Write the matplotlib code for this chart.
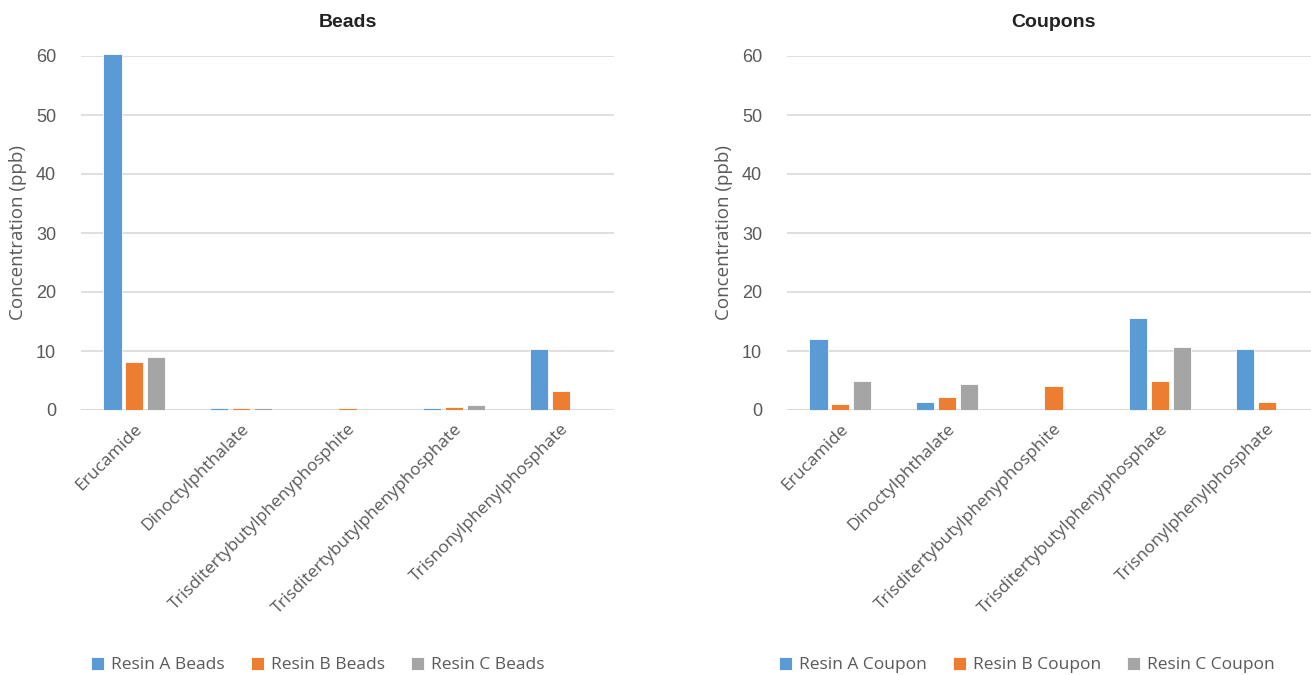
import matplotlib
matplotlib.use("Agg")
import matplotlib.pyplot as plt
import numpy as np

plt.rcParams["font.family"] = ["Open Sans", "DejaVu Sans"]

compounds = ["Erucamide", "Dinoctylphthalate", "Trisditertybutylphenyphosphite",
             "Trisditertybutylphenyphosphate", "Trisnonylphenylphosphate"]

beads_a = [60.3, 0.3, 0.0, 0.3, 10.4]
beads_b = [8.2, 0.3, 0.3, 0.5, 3.3]
beads_c = [9.0, 0.3, 0.0, 0.9, 0.0]

coupon_a = [12.0, 1.4, 0.0, 15.6, 10.4]
coupon_b = [1.1, 2.2, 4.1, 4.9, 1.4]
coupon_c = [5.0, 4.4, 0.0, 10.7, 0.0]

colors = ["#5B9BD5", "#ED7D31", "#A5A5A5"]
grey = "#595959"

W, H = 1311, 675
fig = plt.figure(figsize=(W / 100, H / 100), dpi=100)
ax1 = fig.add_axes([81 / W, 1 - 410 / H, 533 / W, 354 / H])
ax2 = fig.add_axes([787 / W, 1 - 410 / H, 533 / W, 354 / H])


def draw(ax, series, names, title, legend_x):
    x = np.arange(len(compounds))
    w = 0.17
    step = 0.205
    handles = []
    for i, (vals, name) in enumerate(zip(series, names)):
        b = ax.bar(x + (i - 1) * step, vals, w, color=colors[i], edgecolor="white",
                   linewidth=0.6, label=name, zorder=3, clip_on=False)
        handles.append(b)
    ax.set_xlim(-0.5, len(compounds) - 0.5)
    ax.set_ylim(0, 60)
    ax.set_yticks(range(0, 61, 10))
    ax.yaxis.grid(True, color="#D9D9D9", linewidth=1.2, zorder=0)
    for s in ax.spines.values():
        s.set_visible(False)
    ax.axhline(0, color="#D9D9D9", linewidth=1.2, zorder=1)
    ax.tick_params(axis="y", length=0, colors=grey, pad=18)
    ax.tick_params(axis="x", length=0, colors=grey, pad=8)
    ax.set_yticks(range(0, 61, 10))
    ax.set_yticklabels([str(v) for v in range(0, 61, 10)], family="Liberation Sans",
                       fontsize=13, color=grey)
    ax.set_xticks(x)
    ax.set_xticklabels(compounds, rotation=45, ha="right", rotation_mode="anchor",
                       fontsize=12.5, family="Open Sans", color=grey)
    ax.set_ylabel("Concentration (ppb)", fontsize=13.5, family="Open Sans", color=grey,
                  labelpad=6)
    ax.set_title(title, fontsize=14, fontweight="bold", family="Liberation Sans",
                 color="#222222", pad=21)
    fig.legend(handles, names, loc="center", bbox_to_anchor=(legend_x / W, 1 - 665 / H),
               ncol=3, frameon=False, handlelength=0.75, handleheight=0.75,
               columnspacing=1.5, handletextpad=0.4,
               prop={"family": "Open Sans", "size": 12.5}, labelcolor=grey)


draw(ax1, [beads_a, beads_b, beads_c],
     ["Resin A Beads", "Resin B Beads", "Resin C Beads"], "Beads", 318)
draw(ax2, [coupon_a, coupon_b, coupon_c],
     ["Resin A Coupon", "Resin B Coupon", "Resin C Coupon"], "Coupons", 1027)

fig.savefig("out.png", dpi=100)
